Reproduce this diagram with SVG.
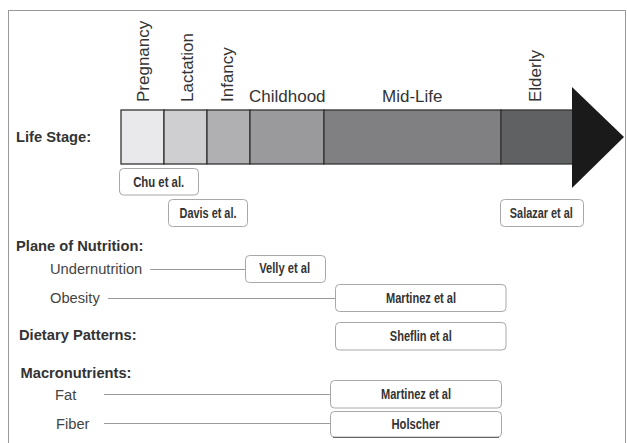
<svg xmlns="http://www.w3.org/2000/svg" width="627" height="443" viewBox="0 0 627 443">
<style>
.hdr{font-family:"Liberation Sans",Arial,sans-serif;font-weight:bold;font-size:14.7px;fill:#333}
.lbl{font-family:"Liberation Sans",Arial,sans-serif;font-size:14.7px;fill:#444}
.stg{font-family:"Liberation Sans",Arial,sans-serif;font-size:17px;fill:#333}
.cit{font-family:"Liberation Sans",Arial,sans-serif;font-weight:bold;font-size:14px;fill:#333;text-anchor:middle}
.box{fill:#fff;stroke:#a8a8a8;stroke-width:1}
.seg{stroke:#333;stroke-width:1.3}
.con{stroke:#9a9a9a;stroke-width:1;fill:none}
</style>
<rect x="0" y="0" width="627" height="443" fill="#fff"/>
<rect x="8.5" y="10.5" width="617" height="440" fill="none" stroke="#999" stroke-width="1"/>
<g id="life-stage">
<text class="hdr" x="16" y="142">Life Stage:</text>
<rect class="seg" x="121" y="110" width="43" height="54" fill="#e9e9eb"/>
<rect class="seg" x="164" y="110" width="43" height="54" fill="#cfcfd1"/>
<rect class="seg" x="207" y="110" width="43" height="54" fill="#b0b0b2"/>
<rect class="seg" x="250" y="110" width="74" height="54" fill="#9a9a9c"/>
<rect class="seg" x="324" y="110" width="177" height="54" fill="#808082"/>
<rect class="seg" x="501" y="110" width="72" height="54" fill="#606163"/>
<polygon points="572,87 572,188 624,137" fill="#1a1a1a"/>
<text class="stg" transform="translate(149,102) rotate(-90)">Pregnancy</text>
<text class="stg" transform="translate(192.5,102) rotate(-90)">Lactation</text>
<text class="stg" transform="translate(233,102) rotate(-90)">Infancy</text>
<text class="stg" transform="translate(541,102) rotate(-90)">Elderly</text>
<text class="stg" x="249" y="102">Childhood</text>
<text class="stg" x="382" y="102">Mid-Life</text>
</g>
<g id="chu"><rect class="box" x="119.5" y="168.5" width="79" height="26.5" rx="4"/><text class="cit" x="158.7" y="187" textLength="51" lengthAdjust="spacingAndGlyphs">Chu et al.</text></g>
<g id="davis"><rect class="box" x="168.5" y="199.5" width="79" height="27" rx="4"/><text class="cit" x="208" y="217.5" textLength="57" lengthAdjust="spacingAndGlyphs">Davis et al.</text></g>
<g id="salazar"><rect class="box" x="500.5" y="199.5" width="83" height="27" rx="4"/><text class="cit" x="541.3" y="217.5" textLength="63" lengthAdjust="spacingAndGlyphs">Salazar et al</text></g>
<g id="plane">
<text class="hdr" x="16" y="251">Plane of Nutrition:</text>
<text class="lbl" x="50" y="274">Undernutrition</text>
<text class="lbl" x="50" y="303">Obesity</text>
</g>
<g id="dietary"><text class="hdr" x="19" y="339.5">Dietary Patterns:</text></g>
<g id="macro">
<text class="hdr" x="20.5" y="377.5">Macronutrients:</text>
<text class="lbl" x="55" y="400">Fat</text>
<text class="lbl" x="56" y="428.5">Fiber</text>
</g>
<g id="connectors">
<line class="con" x1="150" y1="269.5" x2="245.5" y2="269.5"/>
<line class="con" x1="108" y1="298.5" x2="335.5" y2="298.5"/>
<line class="con" x1="104" y1="394.5" x2="330" y2="394.5"/>
<line class="con" x1="104" y1="423.5" x2="330" y2="423.5"/>
</g>
<g id="velly"><rect class="box" x="245.5" y="255.5" width="80" height="27" rx="4"/><text class="cit" x="284.7" y="273" textLength="51" lengthAdjust="spacingAndGlyphs">Velly et al</text></g>
<g id="martinez1"><rect class="box" x="335.5" y="284.5" width="170.5" height="27" rx="4"/><text class="cit" x="421" y="302.5" textLength="70" lengthAdjust="spacingAndGlyphs">Martinez et al</text></g>
<g id="sheflin"><rect class="box" x="335.5" y="322.5" width="170.5" height="27.5" rx="4"/><text class="cit" x="420.8" y="340.5" textLength="62" lengthAdjust="spacingAndGlyphs">Sheflin et al</text></g>
<g id="martinez2"><rect class="box" x="330.5" y="380.5" width="171" height="27.5" rx="4"/><text class="cit" x="416" y="399" textLength="70" lengthAdjust="spacingAndGlyphs">Martinez et al</text></g>
<g id="holscher"><rect class="box" x="330.5" y="411.5" width="171" height="25.5" rx="4"/><line x1="333" y1="437.5" x2="499" y2="437.5" stroke="#666" stroke-width="1.2"/><text class="cit" x="415.5" y="428.5" textLength="48" lengthAdjust="spacingAndGlyphs">Holscher</text></g>
</svg>
